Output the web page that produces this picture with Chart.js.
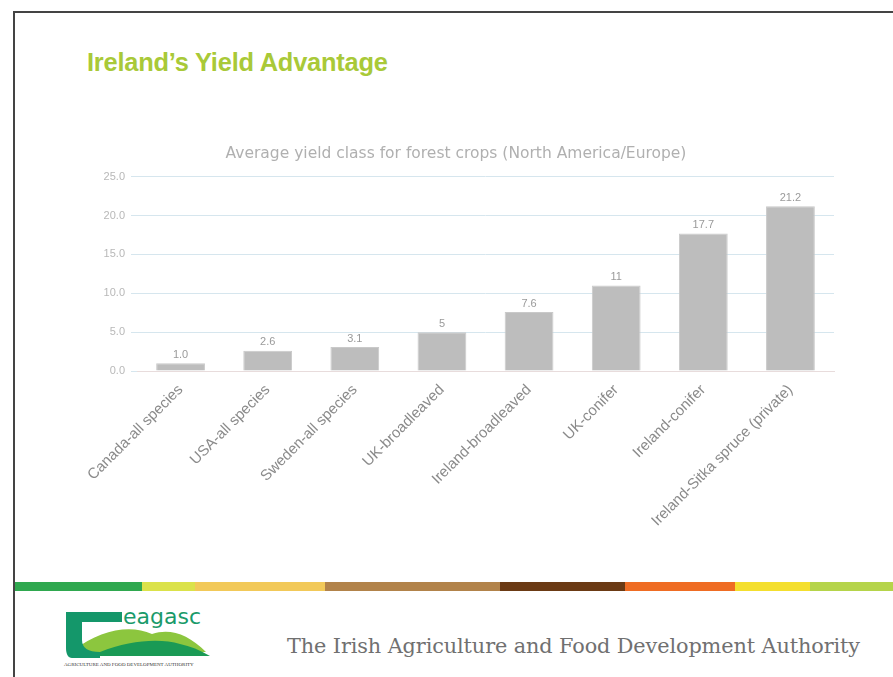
<!DOCTYPE html>
<html>
<head>
<meta charset="utf-8">
<title>Ireland's Yield Advantage</title>
<script src="https://cdn.jsdelivr.net/npm/chart.js@4"></script>
<style>
  html, body { margin: 0; padding: 0; background: #fff; overflow: hidden; }
  body { width: 893px; height: 677px; position: relative; font-family: Arial, "Liberation Sans", sans-serif; }
  .frame { position: absolute; left: 13px; top: 11px; width: 900px; height: 700px;
           border-left: 2px solid #444; border-top: 2px solid #444; }
  .heading { position: absolute; left: 87px; top: 48px; font-size: 25.4px; font-weight: bold; color: #a9c938; letter-spacing: -0.2px; }
  .chart-box { position: absolute; left: 78px; top: 136px; width: 764px; height: 396px; }
  .stripe { position: absolute; left: 15px; top: 582px; height: 9px; display: flex; width: 878px; }
  .stripe div { height: 100%; }
  .tagline { position: absolute; left: 287px; top: 634px; font-family: "DejaVu Serif", "Liberation Serif", serif;
             font-size: 20.8px; color: #707070; letter-spacing: -0.1px; }
  .logo { position: absolute; left: 60px; top: 600px; }
</style>
</head>
<body>
<div class="frame"></div>
<div class="heading">Ireland’s Yield Advantage</div>
<div class="chart-box"><canvas id="yieldChart"></canvas></div>

<div class="stripe" id="stripe"></div>

<svg class="logo" width="160" height="70" viewBox="0 0 160 70">
  <!-- hills -->
  <path d="M14 50 C40 30, 70 24, 92 34 C110 28, 128 34, 146 52 L14 52 Z" fill="#8cc63e"/>
  <path d="M40 52 C70 40, 100 38, 120 44 C130 46, 140 50, 150 56 L40 56 Z" fill="#1a9a55"/>
  <!-- hook -->
  <path d="M6 12 L62 12 L62 22 L22 22 L22 40 C22 48, 28 52, 40 52 L40 58 L12 58 C8 58, 6 54, 6 48 L6 22 Z" fill="#14976a"/>
  <text x="63" y="24" font-family="DejaVu Sans, sans-serif" font-size="22" fill="#1a9a6a">eagasc</text>
  <text x="4" y="66" font-family="Liberation Serif, serif" font-size="5" fill="#333">AGRICULTURE AND FOOD DEVELOPMENT AUTHORITY</text>
</svg>

<div class="tagline">The Irish Agriculture and Food Development Authority</div>

<script>
// Average yield class by region / species
const categories = [
  'Canada-all species',
  'USA-all species',
  'Sweden-all species',
  'UK-broadleaved',
  'Ireland-broadleaved',
  'UK-conifer',
  'Ireland-conifer',
  'Ireland-Sitka spruce (private)'
];
const yieldClass = [1.0, 2.6, 3.1, 5, 7.6, 11, 17.7, 21.2];
const valueLabels = ['1.0', '2.6', '3.1', '5', '7.6', '11', '17.7', '21.2'];
const yTicks = [0, 5, 10, 15, 20, 25];

// footer colour band
const stripeColours = ['#2fa84f', '#dbe24a', '#f2c959', '#b2834a', '#6b3a14', '#ef6c23', '#f4df2e', '#b5d44a'];
const stripeWidths = [127, 53, 130, 175, 125, 110, 75, 83];

const stripe = document.getElementById('stripe');
stripeColours.forEach((c, i) => {
  const d = document.createElement('div');
  d.style.background = c;
  d.style.width = stripeWidths[i] + 'px';
  stripe.appendChild(d);
});

// draws the value above each bar
const barValues = {
  id: 'barValues',
  afterDatasetsDraw(chart) {
    const { ctx } = chart;
    const meta = chart.getDatasetMeta(0);
    ctx.save();
    ctx.font = '11px Arial, "Liberation Sans", sans-serif';
    ctx.fillStyle = '#9a9a9a';
    ctx.textAlign = 'center';
    ctx.textBaseline = 'bottom';
    meta.data.forEach((bar, i) => {
      ctx.fillText(valueLabels[i], bar.x, bar.y - 3);
    });
    ctx.restore();
  }
};

new Chart(document.getElementById('yieldChart'), {
  type: 'bar',
  data: {
    labels: categories,
    datasets: [{
      data: yieldClass,
      backgroundColor: '#bdbdbd',
      borderColor: '#c9c9c9',
      borderWidth: 1,
      categoryPercentage: 1,
      barPercentage: 0.56
    }]
  },
  options: {
    responsive: true,
    maintainAspectRatio: false,
    animation: false,
    layout: { padding: { top: 0, right: 8, left: 0, bottom: 0 } },
    plugins: {
      legend: { display: false },
      tooltip: { enabled: false },
      title: {
        display: true,
        text: 'Average yield class for forest crops (North America/Europe)',
        color: '#b0b0b0',
        font: { family: '"DejaVu Sans", Verdana, sans-serif', size: 15.5, weight: 'normal' },
        padding: { top: 9, bottom: 13 }
      }
    },
    scales: {
      y: {
        min: 0,
        max: 25,
        afterBuildTicks: (axis) => { axis.ticks = yTicks.map(v => ({ value: v })); },
        afterFit: (axis) => { axis.width = 59; },
        ticks: {
          color: '#b8b8b8',
          font: { size: 11 },
          padding: 6,
          callback: v => v.toFixed(1)
        },
        grid: { color: '#d6e6ee', tickLength: 6 },
        border: { display: false }
      },
      x: {
        ticks: {
          color: '#8a8a8a',
          font: { size: 15 },
          minRotation: 45,
          maxRotation: 45,
          padding: 2
        },
        grid: { display: false },
        border: { color: '#e8dcdc' }
      }
    }
  },
  plugins: [barValues]
});
</script>
</body>
</html>
